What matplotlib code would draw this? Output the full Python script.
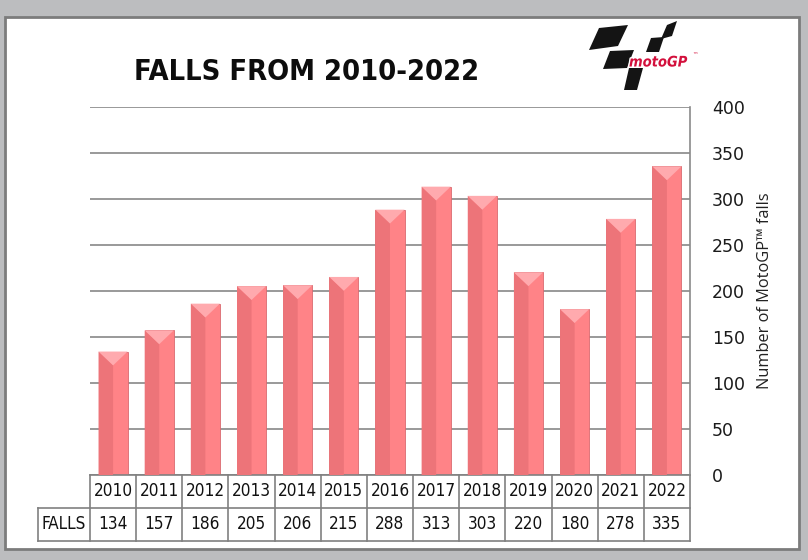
import matplotlib
matplotlib.use('Agg')
import matplotlib.pyplot as plt
import matplotlib.transforms as mtransforms
import matplotlib.patheffects as pe
from matplotlib.patches import Polygon, Rectangle
import numpy as np

# ---- data ----
years = ['2010', '2011', '2012', '2013', '2014', '2015', '2016',
         '2017', '2018', '2019', '2020', '2021', '2022']
falls = [134, 157, 186, 205, 206, 215, 288, 313, 303, 220, 180, 278, 335]
row_label = 'FALLS'
yticks = [0, 50, 100, 150, 200, 250, 300, 350, 400]
title = 'FALLS FROM 2010-2022'
ylabel = 'Number of MotoGP\u2122 falls'

W, H = 808, 560
fig = plt.figure(figsize=(W / 100, H / 100), dpi=100)
fig.patch.set_facecolor('#bcbdbf')


def fx(x):
    return x / W


def fy(y):
    return 1 - y / H


# white panel
fig.patches.append(Rectangle((fx(5), fy(549)), (799 - 5) / W, (549 - 17) / H,
                             transform=fig.transFigure, facecolor='white',
                             edgecolor='#7c7c7c', lw=2, zorder=-5))

AX_L, AX_R, Y0, YT = 90, 690, 475, 106.5
ax = fig.add_axes([fx(AX_L), fy(Y0), (AX_R - AX_L) / W, (Y0 - YT) / H])
ax.set_zorder(1)
ax.set_xlim(-0.5, len(years) - 0.5)
ax.set_ylim(0, 400)
ax.patch.set_alpha(0)
for s in ax.spines.values():
    s.set_visible(False)
ax.spines['right'].set_visible(True)
ax.spines['right'].set_color('#8a8a8a')
ax.spines['right'].set_linewidth(1.2)
ax.yaxis.tick_right()
ax.set_yticks(yticks)
ax.tick_params(axis='y', length=0, pad=15.8, labelsize=12.5, labelcolor='#1a1a1a')
ax.set_xticks([])
ax.grid(axis='y', color='#878787', lw=1.2)
ax.set_axisbelow(True)

x = np.arange(len(years))
bars = ax.bar(x, falls, width=0.63, color='#ff8387', edgecolor='#d96a70',
              lw=0.6, zorder=2)
d = 15
for b in bars:
    x0, w, h = b.get_x(), b.get_width(), b.get_height()
    ax.add_patch(Polygon([(x0, 0), (x0 + w / 2, 0), (x0 + w / 2, h - d), (x0, h)],
                         closed=True, facecolor='#ed7479', lw=0, zorder=3))
    ax.add_patch(Polygon([(x0, h), (x0 + w, h), (x0 + w / 2, h - d)],
                         closed=True, facecolor='#ffaaae', lw=0, zorder=3))

# ---- data table ----
trans = mtransforms.blended_transform_factory(ax.transData, ax.transAxes)
col_w = (AX_R - AX_L) / len(years)


def yf(py):
    return (Y0 - py) / (Y0 - YT)


def xd(px):
    return -0.5 + (px - AX_L) / col_w


lc = '#808080'
r0, r1, r2 = 475, 507.7, 540.5
xl = xd(38)
xr = len(years) - 0.5
ax.plot([-0.5, xr], [yf(r0)] * 2, color=lc, lw=1.2, transform=trans, clip_on=False)
ax.plot([xl, xr], [yf(r1)] * 2, color=lc, lw=1.2, transform=trans, clip_on=False)
ax.plot([xl, xr], [yf(r2)] * 2, color=lc, lw=1.2, transform=trans, clip_on=False)
ax.plot([xl, xl], [yf(r1), yf(r2)], color=lc, lw=1.2, transform=trans, clip_on=False)
for k in range(len(years) + 1):
    xv = k - 0.5
    ax.plot([xv, xv], [yf(r0), yf(r2)], color=lc, lw=1.2, transform=trans, clip_on=False)

tfont = dict(family='DejaVu Sans', fontstretch='condensed', fontsize=12.3, color='#111111')
for i, (yr, v) in enumerate(zip(years, falls)):
    ax.text(i, yf((r0 + r1) / 2), yr, ha='center', va='center', transform=trans, **tfont)
    ax.text(i, yf((r1 + r2) / 2), str(v), ha='center', va='center', transform=trans, **tfont)
ax.text((xl - 0.5) / 2, yf((r1 + r2) / 2), row_label, ha='center', va='center',
        transform=trans, **tfont)

# ---- titles ----
fig.text(fx(134), fy(72), title, ha='left', va='center', fontsize=20.8,
         fontweight='bold', fontstretch='condensed',
         family='DejaVu Sans', color='#0d0d0d')
fig.text(fx(765), fy(291), ylabel, ha='center', va='center', rotation=90,
         fontsize=11.8, family=['Open Sans', 'DejaVu Sans'], color='#222222')

# ---- logo (decoration) ----
logo_shapes = [
    [(599, 28), (628, 25), (618, 46), (589, 50)],
    [(610, 51), (634, 50), (627, 68), (603, 69)],
    [(629, 68), (643, 68), (637, 90), (624, 90)],
    [(667, 25), (677, 21), (672, 36), (661, 39)],
    [(651, 38), (664, 37), (659, 52), (646, 52)],
]
for shp in logo_shapes:
    fig.patches.append(Polygon([(fx(a), fy(b)) for a, b in shp], closed=True,
                               transform=fig.transFigure, facecolor='#141414',
                               lw=0, zorder=2))
fig.text(fx(629), fy(62), 'motoGP', ha='left', va='center', fontsize=10.5,
         fontweight='bold', fontstyle='italic', fontstretch='condensed',
         family='DejaVu Sans', color='#d3103c', zorder=3,
         path_effects=[pe.withStroke(linewidth=2, foreground='white')])
fig.text(fx(692), fy(56), '\u2122', ha='left', va='center', fontsize=4,
         color='#d3103c', zorder=3)

fig.savefig('out.png', dpi=100, facecolor=fig.get_facecolor())
